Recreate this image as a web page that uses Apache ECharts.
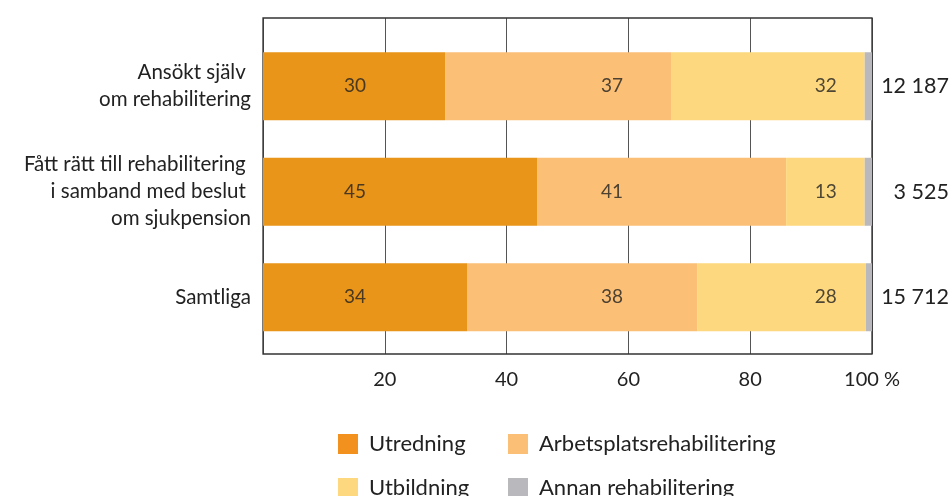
<!DOCTYPE html>
<html><head><meta charset="utf-8">
<script src="https://cdn.jsdelivr.net/npm/echarts@6/dist/echarts.min.js"></script>
<style>html,body{margin:0;padding:0;background:#fff}#c{width:952px;height:496px}</style>
</head><body><div id="c"></div>
<script>
var categories = ['Ansökt själv \nom rehabilitering', 'Fått rätt till rehabilitering \ni samband med beslut \nom sjukpension', 'Samtliga'];
var totals = ['12 187', '3 525', '15 712'];
var utredning = [29.9, 45.0, 33.5];
var arbetsplats = [37.1, 40.9, 37.8];
var utbildning = [31.8, 12.9, 27.7];
var annan = [1.2, 1.2, 1.0];
var shownLabels = [[30, 45, 34], [37, 41, 38], [32, 13, 28]];
var xTicks = [0, 20, 40, 60, 80, 100];

var FONT = 'Lato';
var TXT = '#222';
var colors = ['#E8951A', '#FBBF76', '#FDD87E', '#B9B9BD'];
var names = ['Utredning', 'Arbetsplatsrehabilitering', 'Utbildning', 'Annan rehabilitering'];
var labelCols = [15.1, 57.3, 92.4];

var chart = echarts.init(document.getElementById('c'), null, {renderer: 'canvas'});
var seriesData = [utredning, arbetsplats, utbildning, annan];
var series = seriesData.map(function (d, i) {
  return {
    name: names[i], type: 'bar', stack: 'tot', xAxisIndex: 1, yAxisIndex: 1,
    barWidth: 68, data: d, itemStyle: {color: colors[i]}, z: 3
  };
});
shownLabels.forEach(function (vals, s) {
  series.push({
    type: 'scatter', xAxisIndex: 1, yAxisIndex: 1, symbolSize: 0, silent: true, z: 5,
    data: vals.map(function (v, i) { return [labelCols[s], i, v]; }),
    label: {show: true, position: 'inside', formatter: function (p) { return p.value[2]; },
      fontFamily: FONT, fontSize: 19, color: TXT}
  });
});
var legendPos = [[338, 433], [508, 433], [338, 477], [508, 477]];
var legendColors = ['#F3911F', '#FBBF76', '#FDD87E', '#B9B9BD'];
var legends = names.map(function (n, i) {
  return {
    left: legendPos[i][0], top: legendPos[i][1], orient: 'horizontal', padding: 0,
    icon: 'rect', itemWidth: 20, itemHeight: 20, itemGap: 10, selectedMode: false,
    data: [{name: n, itemStyle: {color: legendColors[i]}}],
    textStyle: {fontFamily: FONT, fontSize: 22, color: TXT, padding: [0, 0, 0, 6]}
  };
});

chart.setOption({
  animation: false,
  grid: [
    {left: 263, right: 80, top: 18, bottom: 142, show: true, borderColor: '#333', borderWidth: 1.3, backgroundColor: 'transparent', z: 1},
    {left: 263, right: 80, top: 33.5, bottom: 146}
  ],
  legend: legends,
  xAxis: [
    {type: 'value', gridIndex: 0, min: xTicks[0], max: xTicks[xTicks.length - 1], interval: 20,
      axisLine: {show: false}, axisTick: {show: false},
      splitLine: {show: true, lineStyle: {color: '#555', width: 1}},
      axisLabel: {showMinLabel: false, margin: 16, fontFamily: FONT, fontSize: 20, color: TXT,
        formatter: function (v) { return v === 100 ? '100 %' : v; }}},
    {type: 'value', gridIndex: 1, min: 0, max: 100, show: false}
  ],
  yAxis: [
    {type: 'value', gridIndex: 0, show: false, splitLine: {show: false}},
    {type: 'category', gridIndex: 1, data: categories, inverse: true,
      axisLine: {show: false}, axisTick: {show: false},
      axisLabel: {margin: 12, fontFamily: FONT, fontSize: 20.5, lineHeight: 27, color: TXT, align: 'right'}},
    {type: 'category', gridIndex: 1, data: totals, inverse: true, position: 'right',
      axisLine: {show: false}, axisTick: {show: false},
      axisLabel: {margin: 77, fontFamily: FONT, fontSize: 21.5, color: TXT, align: 'right'}}
  ],
  series: series
});
</script></body></html>
